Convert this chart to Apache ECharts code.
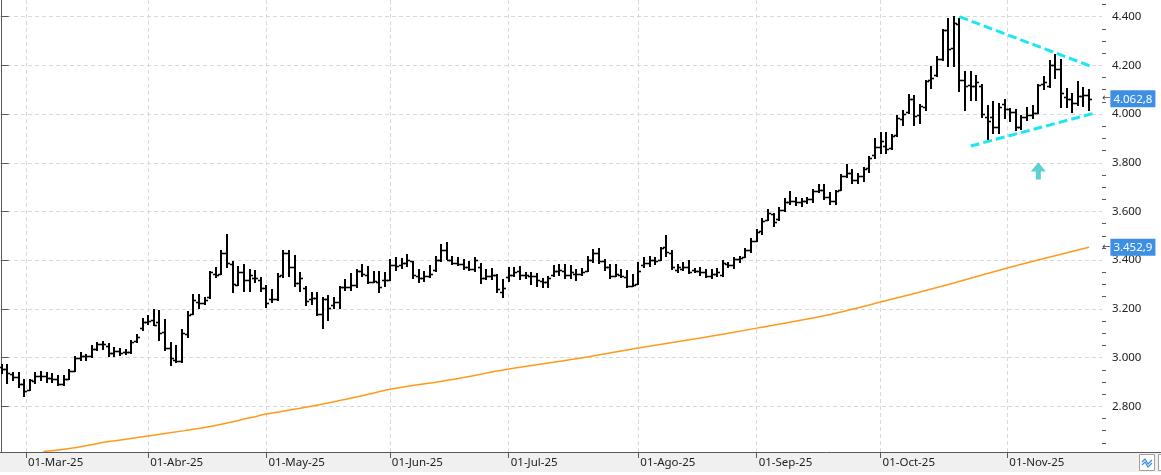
<!DOCTYPE html>
<html>
<head>
<meta charset="utf-8">
<script src="https://cdn.jsdelivr.net/npm/echarts@6/dist/echarts.min.js"></script>
<style>
  html, body { margin: 0; padding: 0; background: #fff; }
  #chart { width: 1161px; height: 475px; }
</style>
</head>
<body>
<div id="chart"></div>
<script>
// OHLC bars, one per trading day (index 0 = first bar on the left)
var opens = [2960,2955,2932,2920,2890,2868,2905,2925,2925,2918,2912,2893,2912,2946,3000,3005,3006,3035,3055,3048,
  3020,3025,3022,3024,3068,3120,3145,3155,3145,3105,3040,2990,2985,3095,3180,3230,3225,3250,3345,3345,
  3431,3385,3300,3350,3320,3325,3320,3285,3240,3240,3340,3430,3372,3308,3285,3240,3245,3180,3240,3215,
  3230,3290,3290,3300,3355,3340,3310,3310,3320,3320,3380,3380,3390,3395,3335,3325,3335,3360,3400,3440,
  3400,3390,3385,3370,3365,3370,3325,3335,3340,3270,3330,3340,3355,3340,3335,3335,3315,3310,3340,3355,
  3355,3340,3345,3345,3356,3400,3430,3395,3370,3335,3340,3330,3295,3303,3380,3390,3400,3402,3455,3430,
  3360,3365,3370,3360,3355,3350,3335,3345,3340,3385,3380,3405,3415,3440,3480,3520,3565,3590,3570,3605,
  3640,3645,3640,3645,3650,3685,3690,3660,3645,3690,3745,3760,3730,3745,3780,3830,3865,3870,3860,3915,
  3980,4010,4061,3995,4030,4140,4160,4227,4345,4272,4372,4139,4120,4115,4115,3990,3990,3945,4041,4020,
  4010,3945,3990,3995,4006,4125,4117,4203,4185,4070,4061,4045,4075,4079];
var highs = [2973,2973,2941,2939,2911,2910,2941,2945,2941,2937,2928,2930,2952,3005,3023,3014,3050,3064,3067,3060,
  3043,3041,3034,3073,3098,3163,3176,3200,3196,3159,3064,3050,3118,3190,3261,3262,3250,3356,3373,3441,
  3506,3397,3377,3386,3363,3359,3329,3299,3282,3347,3441,3441,3422,3350,3295,3268,3268,3248,3258,3250,
  3295,3322,3347,3363,3384,3377,3354,3356,3350,3406,3415,3411,3424,3397,3363,3356,3380,3418,3465,3475,
  3418,3415,3404,3397,3415,3388,3363,3366,3343,3322,3370,3370,3377,3352,3352,3347,3325,3336,3380,3384,
  3384,3380,3363,3366,3418,3445,3449,3404,3384,3384,3363,3360,3342,3391,3415,3419,3415,3456,3505,3440,
  3385,3392,3399,3368,3371,3364,3364,3368,3399,3392,3415,3419,3451,3492,3529,3574,3611,3593,3618,3656,
  3686,3659,3656,3659,3693,3711,3714,3679,3689,3752,3793,3775,3758,3784,3828,3900,3925,3928,3917,3997,
  4017,4084,4079,4042,4141,4196,4240,4350,4396,4403,4396,4178,4176,4162,4125,4038,4052,4045,4062,4024,
  4020,3997,4028,4038,4125,4155,4221,4245,4227,4107,4086,4137,4111,4103];
var lows = [2937,2896,2907,2880,2843,2866,2894,2907,2900,2900,2887,2887,2910,2945,2992,2992,3004,3033,3037,3005,
  3005,3009,3016,3020,3064,3114,3139,3135,3073,3030,2969,2982,2982,3084,3177,3205,3220,3245,3332,3343,
  3373,3268,3298,3275,3275,3309,3275,3207,3227,3238,3329,3333,3295,3275,3214,3220,3175,3122,3155,3204,
  3204,3278,3278,3291,3336,3305,3309,3268,3295,3318,3360,3366,3377,3325,3309,3316,3329,3356,3397,3404,
  3384,3380,3363,3359,3356,3306,3322,3322,3268,3248,3316,3333,3322,3325,3302,3295,3288,3288,3336,3339,
  3325,3325,3320,3339,3356,3393,3390,3360,3325,3333,3329,3291,3295,3302,3371,3378,3385,3401,3419,3364,
  3351,3358,3347,3351,3341,3330,3327,3337,3333,3374,3368,3392,3412,3433,3478,3508,3563,3542,3566,3604,
  3632,3625,3621,3634,3638,3679,3652,3632,3632,3689,3741,3716,3716,3727,3762,3821,3841,3841,3855,3910,
  3956,4006,3956,3962,4015,4107,4158,4224,4196,4199,4093,4017,4059,4059,3987,3896,3924,3924,3983,3973,
  3935,3938,3976,3983,4004,4103,4111,4148,4031,4031,4010,4038,4034,4017];
var closes = [2952,2935,2922,2890,2862,2906,2925,2926,2918,2912,2893,2912,2946,2998,3005,3006,3035,3055,3055,3020,
  3025,3018,3024,3065,3085,3148,3150,3135,3100,3040,3000,2985,3100,3175,3235,3225,3235,3350,3340,3430,
  3390,3302,3350,3320,3340,3325,3285,3225,3240,3335,3430,3372,3308,3325,3232,3245,3180,3240,3204,3230,
  3290,3290,3300,3355,3345,3310,3315,3290,3320,3380,3375,3390,3400,3340,3325,3335,3345,3400,3440,3400,
  3390,3385,3370,3365,3400,3325,3335,3340,3280,3284,3340,3350,3340,3340,3335,3320,3310,3325,3355,3360,
  3340,3350,3345,3350,3400,3430,3395,3370,3335,3345,3335,3295,3300,3355,3388,3400,3395,3450,3432,3370,
  3370,3370,3350,3355,3350,3335,3345,3350,3390,3380,3405,3410,3440,3480,3515,3560,3595,3555,3605,3640,
  3645,3640,3645,3650,3685,3690,3660,3645,3685,3745,3760,3730,3745,3775,3820,3866,3890,3858,3910,3985,
  4000,4061,3993,4034,4137,4150,4227,4345,4268,4375,4141,4117,4115,4130,4000,3970,3945,4030,4020,4010,
  3945,3990,3995,4005,4120,4130,4203,4185,4086,4061,4045,4075,4079,4062.8];

// 200-day moving average, read at a few points
var maIdx = [7.4, 13, 19, 26, 32.5, 37.5, 44.5, 47, 53, 59, 65, 69, 80, 90, 102, 113, 124, 134, 146, 156, 168, 178.5, 193];
var maVal = [2614, 2630, 2655, 2678, 2700, 2719, 2755, 2768, 2792, 2819, 2849, 2870, 2910, 2953, 2995, 3039, 3080, 3121, 3172, 3228, 3300, 3368, 3452.9];

// month labels on the time axis (position in bar units)
var monthPos = [4.3, 26, 47, 68.9, 90, 113, 134, 156, 178.5];
var monthText = ['01-Mar-25', '01-Abr-25', '01-May-25', '01-Jun-25', '01-Jul-25', '01-Ago-25', '01-Sep-25', '01-Oct-25', '01-Nov-25'];

// price axis ticks
var yMajor = [2800, 3000, 3200, 3400, 3600, 3800, 4000, 4200, 4400];
var yMinor = [];
for (var t = 2650; t < 4460; t += 50) { if (t % 200 !== 0) yMinor.push(t); }

// triangle drawn on the chart
var lineTop = [[170, 4400], [193.5, 4195]];
var lineBottom = [[172, 3869], [193.8, 4003]];
var arrowPt = [[184, 3766]];

var lastClose = 4062.8;
var lastMa = 3452.9;

function fmtInt(v) {
  return Math.round(v).toString().replace(/\B(?=(\d{3})+(?!\d))/g, '.');
}
function fmtDec(v) {
  var s = v.toFixed(1).split('.');
  return fmtInt(+s[0]) + ',' + s[1];
}

var ohlc = [];
for (var i = 0; i < opens.length; i++) {
  ohlc.push([i, opens[i], highs[i], lows[i], closes[i]]);
}
var maData = maIdx.map(function (x, k) { return [x, maVal[k]]; });

function renderBar(params, api) {
  var x = api.value(0);
  var o = api.coord([x, api.value(1)]);
  var h = api.coord([x, api.value(2)]);
  var l = api.coord([x, api.value(3)]);
  var c = api.coord([x, api.value(4)]);
  var px = Math.round(h[0]);
  var st = { stroke: '#000', lineWidth: 2 };
  var tk = { stroke: '#000', lineWidth: 1.6 };
  return {
    type: 'group',
    children: [
      { type: 'line', shape: { x1: px, y1: Math.round(h[1]), x2: px, y2: Math.round(l[1]) + 1 }, style: st },
      { type: 'line', shape: { x1: px - 3, y1: Math.round(o[1]) + 0.5, x2: px, y2: Math.round(o[1]) + 0.5 }, style: tk },
      { type: 'line', shape: { x1: px, y1: Math.round(c[1]) + 0.5, x2: px + 3, y2: Math.round(c[1]) + 0.5 }, style: tk }
    ]
  };
}

var chart = echarts.init(document.getElementById('chart'));

var option = {
  animation: false,
  backgroundColor: '#fff',
  grid: { left: 0, right: 59, top: 0, bottom: 23 },
  graphic: [
    { type: 'rect', z: -1, shape: { x: 0, y: 452, width: 1161, height: 20 }, style: { fill: '#f0f0f0' } },
    { type: 'line', z: -1, shape: { x1: 1102, y1: 452.5, x2: 1161, y2: 452.5 }, style: { stroke: '#5a5a5a', lineWidth: 1 } },
    { type: 'rect', shape: { x: 1139.5, y: 454.5, width: 15, height: 16 }, style: { fill: '#fff', stroke: '#a0a0a0', lineWidth: 1 } },
    { type: 'polyline', shape: { points: [[1142, 462], [1145, 459], [1148, 464], [1152, 460]] }, style: { stroke: '#3b8ee0', lineWidth: 1.2, fill: null } },
    { type: 'polyline', shape: { points: [[1142, 465], [1145, 462], [1148, 467], [1152, 463]] }, style: { stroke: '#3b8ee0', lineWidth: 1.2, fill: null } },
    { type: 'rect', shape: { x: 1158.5, y: 454.5, width: 6, height: 16 }, style: { fill: '#fff', stroke: '#a0a0a0', lineWidth: 1 } }
  ],
  xAxis: {
    type: 'value',
    min: -0.3,
    max: 195.3,
    axisLine: { show: true, lineStyle: { color: '#5a5a5a', width: 1 } },
    axisTick: { show: true, customValues: monthPos, length: 6, lineStyle: { color: '#5a5a5a' } },
    axisLabel: {
      customValues: monthPos,
      align: 'left',
      margin: 5,
      padding: [0, 0, 0, 2],
      color: '#222',
      fontFamily: 'Noto Sans',
      fontSize: 11.5,
      formatter: function (v) {
        for (var k = 0; k < monthPos.length; k++) {
          if (Math.abs(monthPos[k] - v) < 0.01) return monthText[k];
        }
        return '';
      }
    },
    splitLine: { show: true, lineStyle: { color: '#d9d9d9', type: [4, 3] } }
  },
  yAxis: [
    {
      type: 'value',
      position: 'right',
      min: 2612.2,
      max: 4468.6,
      axisLine: { show: true, lineStyle: { color: '#5a5a5a', width: 1 } },
      axisTick: { show: true, customValues: yMajor, length: 7, lineStyle: { color: '#5a5a5a' } },
      axisLabel: {
        customValues: yMajor,
        margin: 10,
        color: '#222',
        fontFamily: 'Noto Sans',
        fontSize: 11.5,
        formatter: function (v) { return fmtInt(v); }
      },
      splitLine: { show: true, lineStyle: { color: '#d9d9d9', type: [4, 3] } }
    },
    {
      type: 'value',
      position: 'right',
      min: 2612.2,
      max: 4468.6,
      axisLine: { show: false },
      axisTick: { show: true, customValues: yMinor, length: 4, lineStyle: { color: '#5a5a5a' } },
      axisLabel: { show: false },
      splitLine: { show: false }
    }
  ],
  series: [
    {
      name: 'MA200',
      type: 'line',
      data: maData,
      smooth: 0.3,
      showSymbol: false,
      lineStyle: { color: '#ff9a1a', width: 1.5 },
      z: 3,
      markLine: {
        silent: true,
        symbol: 'none',
        lineStyle: { color: 'rgba(0,0,0,0)', width: 0 },
        label: {
          show: true,
          position: 'end',
          distance: 0,
          formatter: function (p) { return '{a|\u2190}{b|' + fmtDec(p.value) + '}'; },
          rich: {
            a: { color: '#444', fontSize: 10, fontFamily: 'DejaVu Sans', padding: [0, 0, 0, 0] },
            b: { color: '#fff', backgroundColor: '#3d8fe3', fontSize: 11.5, fontFamily: 'Noto Sans', padding: [3, 3, 2, 3] }
          }
        },
        data: [{ yAxis: lastClose }, { yAxis: lastMa }]
      }
    },
    {
      name: 'OHLC',
      type: 'custom',
      renderItem: renderBar,
      encode: { x: 0, y: [1, 2, 3, 4] },
      data: ohlc,
      clip: true,
      z: 4
    },
    {
      name: 'top',
      type: 'line',
      data: lineTop,
      showSymbol: false,
      lineStyle: { color: '#1de6f4', width: 3, type: [9, 4] },
      z: 5
    },
    {
      name: 'bottom',
      type: 'line',
      data: lineBottom,
      showSymbol: false,
      lineStyle: { color: '#1de6f4', width: 3, type: [9, 4] },
      z: 5
    },
    {
      name: 'arrow',
      type: 'scatter',
      data: arrowPt,
      symbol: 'path://M7.5,0 L15,9 L10,9 L10,17 L5,17 L5,9 L0,9 Z',
      symbolSize: [15, 17],
      itemStyle: { color: '#35c6c6' },
      z: 5
    }
  ]
};

chart.setOption(option);
</script>
</body>
</html>
